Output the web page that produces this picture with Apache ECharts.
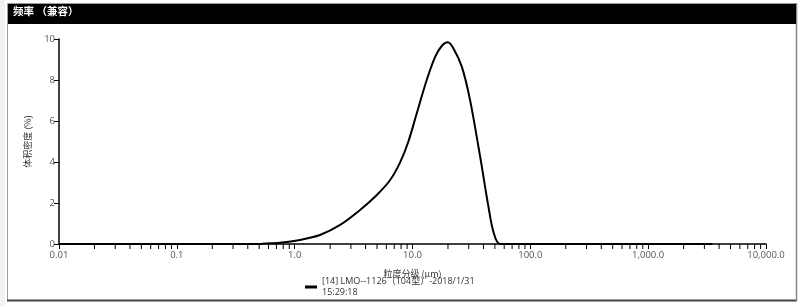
<!DOCTYPE html>
<html><head><meta charset="utf-8">
<script src="https://cdn.jsdelivr.net/npm/echarts@6/dist/echarts.min.js"></script>
<style>html,body{margin:0;padding:0;background:#fff}#c{width:800px;height:306px}</style>
</head><body><div id="c"></div>
<script>
var titleText = '频率 （兼容）';
var seriesName = '[14] LMO--1126（104型）-2018/1/31 15:29:18';
var sizes   = [0.01, 0.5, 0.56, 0.75, 1.11, 1.64, 2.43, 3.59, 4.98, 6.46, 7.85, 9.23, 10.9, 13.2, 15.6, 17.7, 19.9, 22.2, 26.2, 30.8, 37.5, 44.1, 48.6, 55.5, 3500];
var volumes = [0,    0,   0.02, 0.06, 0.2,  0.44, 0.93, 1.66, 2.39, 3.12, 3.98, 5.0,  6.4,  8.0,  9.14, 9.66, 9.84, 9.55, 8.65, 7.02, 4.26, 1.82, 0.6,  0,    0];
var xMajorTicks = [0.01, 0.1, 1, 10, 100, 1000, 10000];
var xTickLabels = ['0.01', '0.1', '1.0', '10.0', '100.0', '1,000.0', '10,000.0'];
var yTicks = [0, 2, 4, 6, 8, 10];

var minorTicks = [];
for (var i = 0; i < xMajorTicks.length - 1; i++) {
  for (var k = 2; k <= 9; k++) minorTicks.push(k * xMajorTicks[i]);
}
var lineData = sizes.map(function (s, i) { return [s, volumes[i]]; });
var font = '"Open Sans", "Noto Sans CJK SC", sans-serif';
var cjk = '"Noto Sans CJK SC", sans-serif';

var chart = echarts.init(document.getElementById('c'), null, {renderer: 'canvas'});
chart.setOption({
  animation: false,
  backgroundColor: '#fff',
  grid: {left: 59, right: 34, top: 39, bottom: 62},
  graphic: [
    {type: 'rect', shape: {x: 0, y: 0, width: 5, height: 306}, style: {fill: '#f2f2f2'}, silent: true},
    {type: 'rect', shape: {x: 7.5, y: 3.5, width: 789, height: 297}, style: {fill: null, stroke: '#9a9a9a', lineWidth: 1}, silent: true},
    {type: 'line', shape: {x1: 7, y1: 300.5, x2: 797, y2: 300.5}, style: {stroke: '#444', lineWidth: 2}, silent: true},
    {type: 'line', shape: {x1: 796.5, y1: 3, x2: 796.5, y2: 301}, style: {stroke: '#888', lineWidth: 1.5}, silent: true},
    {type: 'rect', shape: {x: 8, y: 4, width: 788, height: 20}, style: {fill: '#000'}, silent: true},
    {type: 'text', left: 13, top: 6, style: {text: titleText, fill: '#fff', font: 'bold 10.5px ' + cjk}, silent: true}
  ],
  legend: {
    data: [seriesName],
    left: 305, top: 276,
    icon: 'rect', itemWidth: 12, itemHeight: 3, itemGap: 4,
    padding: 0,
    formatter: function (n) { return n.replace(' 15:', '\n15:'); },
    textStyle: {fontSize: 9, color: '#333', fontFamily: font, lineHeight: 11}
  },
  xAxis: {
    type: 'log', logBase: 10, min: 0.01, max: 10000,
    name: '粒度分级 (μm)', nameLocation: 'middle', nameGap: 25,
    nameTextStyle: {fontSize: 9, color: '#333', fontFamily: cjk},
    axisLine: {lineStyle: {color: '#000', width: 1.5}},
    axisTick: {show: true, length: 5, lineStyle: {color: '#000', width: 1}},
    axisLabel: {fontSize: 9.5, color: '#555', fontFamily: font, margin: 7,
      formatter: function (v) {
        var idx = xMajorTicks.findIndex(function (t) { return Math.abs(t - v) / t < 1e-6; });
        return idx >= 0 ? xTickLabels[idx] : '';
      }},
    splitLine: {show: false}
  },
  yAxis: {
    type: 'value', min: 0, max: 10, interval: 2,
    name: '体积密度 (%)', nameLocation: 'middle', nameGap: 27, nameRotate: 90,
    nameTextStyle: {fontSize: 9, color: '#333', fontFamily: cjk},
    axisLine: {show: true, lineStyle: {color: '#000', width: 1.5}},
    axisTick: {show: true, length: 5, lineStyle: {color: '#000'}},
    axisLabel: {fontSize: 9.5, color: '#555', fontFamily: font, margin: 4},
    splitLine: {show: false}
  },
  series: [
    {
      name: seriesName, type: 'line', data: lineData, showSymbol: false, smooth: 0.3,
      lineStyle: {color: '#000', width: 2}, itemStyle: {color: '#000'}, z: 5
    },
    {
      name: 'minor', type: 'custom', clip: false, silent: true,
      data: minorTicks.map(function (t) { return [t, 0]; }),
      renderItem: function (params, api) {
        var p = api.coord([api.value(0), 0]);
        return {type: 'line', shape: {x1: p[0], y1: p[1], x2: p[0], y2: p[1] + 5},
          style: {stroke: '#000', lineWidth: 1}};
      }
    }
  ]
});
</script></body></html>
